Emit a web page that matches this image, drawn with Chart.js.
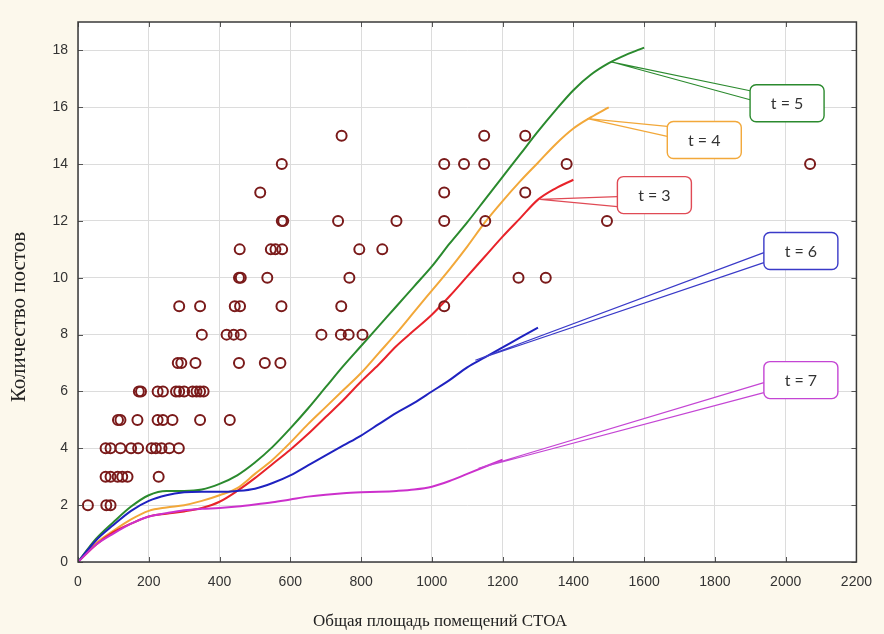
<!DOCTYPE html>
<html>
<head>
<meta charset="utf-8">
<script src="https://cdn.jsdelivr.net/npm/chart.js@4.4.0/dist/chart.umd.min.js"></script>
<style>
    html, body { margin: 0; padding: 0; background: #fcf8ec; }
    #wrap { width: 884px; height: 634px; }
</style>
</head>
<body>
<div id="wrap"><canvas id="chart" width="884" height="634"></canvas></div>
<script>
// observed stations: area vs posts
const obsArea = [
    28, 80, 92,
    78, 92, 112, 125, 140, 228,
    78, 92, 120, 150, 170, 208, 220, 236, 258, 285,
    113, 120, 168, 225, 240, 267, 345, 429,
    172, 178, 225, 240, 277, 286, 300, 324, 335, 345, 355,
    282, 292, 332, 455, 528, 572,
    350, 420, 440, 460, 688, 743, 765, 804,
    286, 345, 443, 458, 575, 744, 1035,
    455, 460, 535, 767, 1245, 1322,
    457, 545, 558, 577, 795, 860,
    576, 580, 735, 900, 1035, 1151, 1495,
    515, 1035, 1264,
    576, 1035, 1091, 1148, 1381, 2069,
    745, 1148, 1264
];
const obsPosts = [
    2, 2, 2,
    3, 3, 3, 3, 3, 3,
    4, 4, 4, 4, 4, 4, 4, 4, 4, 4,
    5, 5, 5, 5, 5, 5, 5, 5,
    6, 6, 6, 6, 6, 6, 6, 6, 6, 6, 6,
    7, 7, 7, 7, 7, 7,
    8, 8, 8, 8, 8, 8, 8, 8,
    9, 9, 9, 9, 9, 9, 9,
    10, 10, 10, 10, 10, 10,
    11, 11, 11, 11, 11, 11,
    12, 12, 12, 12, 12, 12, 12,
    13, 13, 13,
    14, 14, 14, 14, 14, 14,
    15, 15, 15
];

// model curves, sampled every 50 m2 from 0
const curveStep = 50;
const curveT5 = [0, 0.8, 1.4, 1.95, 2.35, 2.5, 2.5, 2.55, 2.75, 3.05, 3.5, 4.05, 4.7, 5.4, 6.15, 6.9, 7.6,
    8.3, 9.0, 9.7, 10.4, 11.2, 11.95, 12.75, 13.55, 14.35, 15.15, 15.9, 16.6, 17.15, 17.55, 17.85, 18.1];
const curveT4 = [0, 0.65, 1.1, 1.5, 1.8, 1.92, 2.0, 2.15, 2.35, 2.6, 3.1, 3.6, 4.2, 4.85, 5.45, 6.05,
    6.65, 7.35, 8.05, 8.8, 9.55, 10.3, 11.1, 11.95, 12.7, 13.4, 14.05, 14.7, 15.25, 15.65, 16.0];
const curveT3 = [0, 0.6, 1.05, 1.35, 1.6, 1.7, 1.78, 1.9, 2.12, 2.5, 2.95, 3.45, 3.95, 4.5, 5.1, 5.7,
    6.35, 6.95, 7.6, 8.15, 8.7, 9.35, 10.05, 10.75, 11.45, 12.1, 12.75, 13.15, 13.45];
const curveT6 = [0, 0.75, 1.3, 1.8, 2.15, 2.35, 2.45, 2.47, 2.47, 2.5, 2.58, 2.78, 3.05, 3.4, 3.75, 4.1,
    4.45, 4.85, 5.25, 5.6, 6.0, 6.4, 6.85, 7.2, 7.55, 7.9, 8.25];
const curveT7 = [0, 0.6, 1.0, 1.35, 1.6, 1.72, 1.82, 1.87, 1.9, 1.95, 2.02, 2.1, 2.2, 2.3, 2.37, 2.42,
    2.45, 2.47, 2.5, 2.55, 2.65, 2.85, 3.1, 3.35, 3.6];

const xTicks = [0, 200, 400, 600, 800, 1000, 1200, 1400, 1600, 1800, 2000, 2200];
const yTicks = [0, 2, 4, 6, 8, 10, 12, 14, 16, 18];

const xTitle = 'Общая площадь помещений СТОА';
const yTitle = 'Количество постов';

// callout labels (data coords of anchor on curve and of box centre)
const calloutLabels = ['t = 5', 't = 4', 't = 3', 't = 6', 't = 7'];
const calloutAnchorX = [1506, 1440, 1306, 1123, 1132];
const calloutAnchorY = [17.6, 15.6, 12.76, 7.1, 3.3];
const calloutBoxX = [2004, 1770, 1629, 2043, 2043];
const calloutBoxY = [16.14, 14.85, 12.91, 10.94, 6.4];

const colors = {
    t5: '#2b8a2e',
    t4: '#f2a83a',
    t3: '#e8232a',
    t6: '#1f22c0',
    t7: '#cc30cc',
    dots: '#7a1a1a'
};
const calloutColors = [colors.t5, colors.t4, '#e04a55', '#3a3ac8', '#c445d4'];
const tailOffsets = [[6, 15], [5, 15], [20, 30], [20, 30], [21, 31]];

function toPoints(values) {
    return values.map((v, i) => ({ x: i * curveStep, y: v }));
}

function curve(label, values, color) {
    return {
        type: 'line',
        label: label,
        data: toPoints(values),
        borderColor: color,
        borderWidth: 2,
        pointRadius: 0,
        fill: false,
        cubicInterpolationMode: 'monotone'
    };
}

const backgroundPlugin = {
    id: 'background',
    beforeDraw(chart) {
        const { ctx, chartArea: a } = chart;
        ctx.save();
        ctx.fillStyle = '#fcf8ec';
        ctx.fillRect(0, 0, chart.width, chart.height);
        ctx.fillStyle = '#ffffff';
        ctx.fillRect(a.left, a.top, a.right - a.left, a.bottom - a.top);
        ctx.restore();
    }
};

const framePlugin = {
    id: 'frame',
    afterDraw(chart) {
        const { ctx, chartArea: a, scales } = chart;
        ctx.save();
        ctx.strokeStyle = '#555';
        ctx.lineWidth = 1;
        ctx.beginPath();
        xTicks.forEach(t => {
            const px = Math.round(scales.x.getPixelForValue(t)) + 0.5;
            ctx.moveTo(px, a.bottom); ctx.lineTo(px, a.bottom - 5);
            ctx.moveTo(px, a.top); ctx.lineTo(px, a.top + 5);
        });
        yTicks.forEach(t => {
            const py = Math.round(scales.y.getPixelForValue(t)) + 0.5;
            ctx.moveTo(a.left, py); ctx.lineTo(a.left + 5, py);
            ctx.moveTo(a.right, py); ctx.lineTo(a.right - 5, py);
        });
        ctx.stroke();
        ctx.strokeStyle = '#3a3a3a';
        ctx.lineWidth = 1.5;
        ctx.strokeRect(a.left, a.top, a.right - a.left, a.bottom - a.top);

        // axis titles (offset like in the original figure)
        ctx.fillStyle = '#222';
        ctx.textAlign = 'center';
        ctx.textBaseline = 'middle';
        ctx.font = '17px "Liberation Serif", "Times New Roman", serif';
        ctx.fillText(xTitle, a.left + 362, a.bottom + 60);
        ctx.translate(19, a.top + 295);
        ctx.rotate(-Math.PI / 2);
        ctx.font = '21px "Liberation Serif", "Times New Roman", serif';
        ctx.fillText(yTitle, 0, 0);
        ctx.restore();
    }
};

const calloutPlugin = {
    id: 'callouts',
    afterDatasetsDraw(chart) {
        const { ctx, scales } = chart;
        const w = 74, h = 37;
        ctx.save();
        calloutLabels.forEach((text, i) => {
            const ax = scales.x.getPixelForValue(calloutAnchorX[i]);
            const ay = scales.y.getPixelForValue(calloutAnchorY[i]);
            const cx = scales.x.getPixelForValue(calloutBoxX[i]);
            const cy = scales.y.getPixelForValue(calloutBoxY[i]);
            const left = cx - w / 2, top = cy - h / 2;
            const col = calloutColors[i];
            const [o1, o2] = tailOffsets[i];

            // tail
            ctx.beginPath();
            ctx.moveTo(ax, ay);
            ctx.lineTo(left + 1, top + o1);
            ctx.lineTo(left + 1, top + o2);
            ctx.closePath();
            ctx.fillStyle = 'rgba(255,255,255,0.9)';
            ctx.fill();
            ctx.strokeStyle = col;
            ctx.lineWidth = 1.2;
            ctx.beginPath();
            ctx.moveTo(ax, ay); ctx.lineTo(left, top + o1);
            ctx.moveTo(ax, ay); ctx.lineTo(left, top + o2);
            ctx.stroke();

            // box
            ctx.beginPath();
            ctx.roundRect(left, top, w, h, 6);
            ctx.fillStyle = '#ffffff';
            ctx.fill();
            ctx.lineWidth = 1.4;
            ctx.strokeStyle = col;
            ctx.stroke();

            ctx.fillStyle = '#333';
            ctx.font = '16px Lato, "Liberation Sans", sans-serif';
            ctx.textAlign = 'center';
            ctx.textBaseline = 'middle';
            ctx.fillText(text, cx, cy + 1);
        });
        ctx.restore();
    }
};

const chart = new Chart(document.getElementById('chart'), {
    type: 'scatter',
    data: {
        datasets: [
            {
                type: 'scatter',
                label: 'СТОА',
                data: obsArea.map((x, i) => ({ x: x, y: obsPosts[i] })),
                pointStyle: 'circle',
                pointRadius: 5,
                borderWidth: 2,
                borderColor: colors.dots,
                backgroundColor: 'rgba(0,0,0,0)'
            },
            curve('t = 7', curveT7, colors.t7),
            curve('t = 6', curveT6, colors.t6),
            curve('t = 3', curveT3, colors.t3),
            curve('t = 4', curveT4, colors.t4),
            curve('t = 5', curveT5, colors.t5)
        ]
    },
    options: {
        responsive: false,
        animation: false,
        devicePixelRatio: 1,
        layout: { padding: { top: 22, right: 25, left: 0, bottom: 0 } },
        plugins: {
            legend: { display: false },
            tooltip: { enabled: false }
        },
        scales: {
            x: {
                type: 'linear',
                min: 0,
                max: 2200,
                afterFit(scale) { scale.height = 72; },
                afterBuildTicks(scale) { scale.ticks = xTicks.map(v => ({ value: v })); },
                grid: { color: '#dcdcdc', drawTicks: false },
                border: { display: false },
                ticks: {
                    padding: 12,
                    color: '#333',
                    callback: v => String(v),
                    font: { family: '"Liberation Sans", Arial, sans-serif', size: 14 }
                }
            },
            y: {
                type: 'linear',
                min: 0,
                max: 19,
                afterFit(scale) { scale.width = 78; },
                afterBuildTicks(scale) { scale.ticks = yTicks.map(v => ({ value: v })); },
                grid: { color: '#dcdcdc', drawTicks: false },
                border: { display: false },
                ticks: {
                    padding: 10,
                    color: '#333',
                    callback: v => String(v),
                    font: { family: '"Liberation Sans", Arial, sans-serif', size: 14 }
                }
            }
        }
    },
    plugins: [backgroundPlugin, framePlugin, calloutPlugin]
});
</script>
</body>
</html>
